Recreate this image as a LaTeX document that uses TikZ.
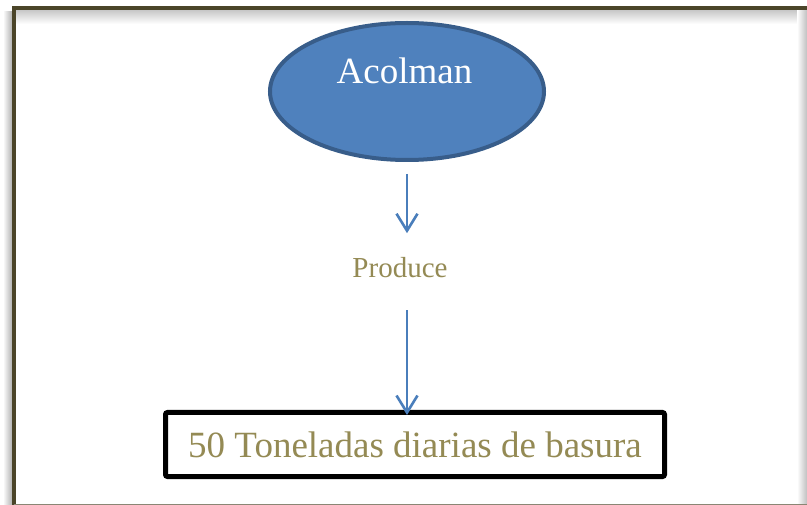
\documentclass[tikz,border=0pt]{standalone}
\usepackage{fontspec}
\setmainfont{Liberation Serif}
\usetikzlibrary{shapes.geometric,arrows.meta}
\definecolor{framecol}{RGB}{75,69,41}
\definecolor{ellfill}{HTML}{4F81BD}
\definecolor{elldraw}{HTML}{385D8A}
\definecolor{arrcol}{HTML}{4A7EBB}
\definecolor{olivetext}{HTML}{948A54}
\tikzset{
  conn/.style={draw=arrcol, line width=2.6pt, -{Straight Barb[length=17pt,width=21pt]}},
  ellnode/.style={ellipse, fill=ellfill, draw=elldraw, line width=4pt, inner sep=0pt},
  boxnode/.style={rectangle, draw=black, line width=5pt, rounded corners=2pt, inner sep=0pt, text=olivetext, font=\fontsize{37}{44}\selectfont},
  lbl/.style={inner sep=0pt, anchor=base}
}
\begin{document}
\begin{tikzpicture}[x=1pt,y=-1pt]
\useasboundingbox (0,0) rectangle (807,505);
\fill[white] (0,0) rectangle (807,505);
% shadows
\shade[left color=white, right color=black!30] (3,12) rectangle (12,505);
\shade[top color=black!22, bottom color=white] (16,10) rectangle (807,24);
\shade[left color=white, right color=black!25] (797,10) rectangle (807,505);
% frame
\draw[framecol, line width=4.4pt] (820,8) -- (14,8) -- (14,505.5);
\draw[framecol!65, line width=2pt] (14,504.5) -- (820,504.5);
% nodes
\node[ellnode, minimum width=274pt, minimum height=137pt] (acolman) at (407,91.5) {};
\node[lbl, text=white, font=\fontsize{37}{44}\selectfont] (acolmantext) at (404.5,84) {Acolman};
\node[lbl, text=olivetext, font=\fontsize{29}{35}\selectfont] (produce) at (400,278) {Produce};
\node[boxnode, minimum width=499pt, minimum height=64pt] (basura) at (415,444.5) {50 Toneladas diarias de basura};
% connectors
\draw[conn, shorten <=12pt, shorten >=24.5pt] (acolman.south) -- (acolman.south |- produce.north);
\draw[conn, shorten <=32pt, shorten >=-5pt] (acolman.south |- produce.south) -- (basura.north -| acolman.south);
\end{tikzpicture}
\end{document}
